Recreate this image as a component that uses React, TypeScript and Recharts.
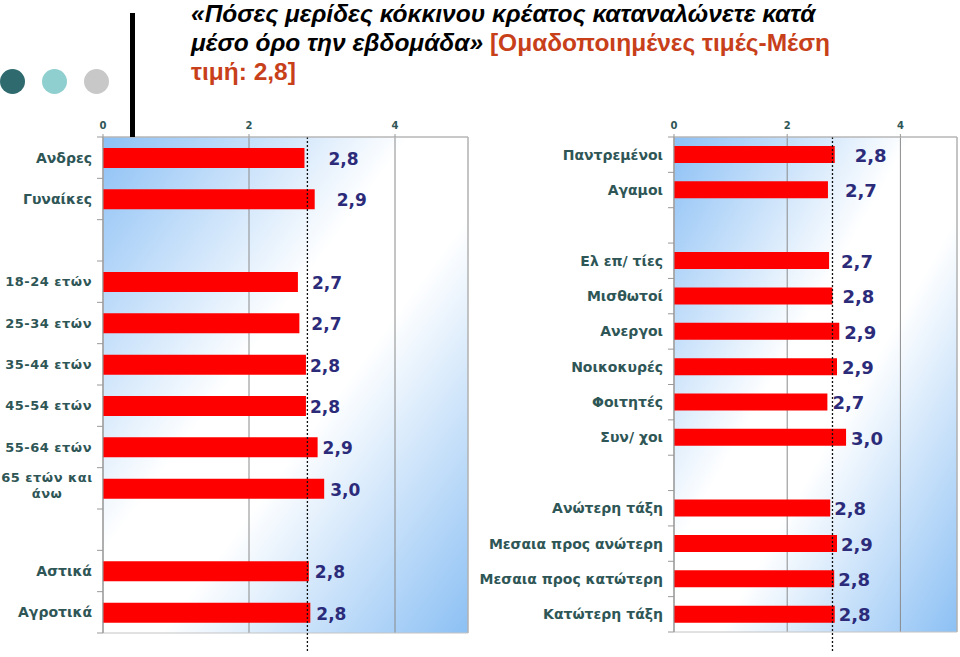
import React from 'react';
import { BarChart, Bar, XAxis, YAxis, CartesianGrid, ReferenceLine, ReferenceArea, LabelList } from 'recharts';

// left panel: gender / age / area
const leftLabels = ['Ανδρες', 'Γυναίκες', '', '18-24 ετών', '25-34 ετών', '35-44 ετών', '45-54 ετών', '55-64 ετών', '65 ετών και\nάνω', '', 'Αστικά', 'Αγροτικά'];
const leftValues = [2.76, 2.9, null, 2.67, 2.69, 2.78, 2.78, 2.94, 3.03, null, 2.82, 2.84];

// right panel: marital status / occupation / social class
const rightLabels = ['Παντρεμένοι', 'Αγαμοι', '', 'Ελ επ/ τίες', 'Μισθωτοί', 'Ανεργοι', 'Νοικοκυρές', 'Φοιτητές', 'Συν/ χοι', '', 'Ανώτερη τάξη', 'Μεσαια προς ανώτερη', 'Μεσαια προς κατώτερη', 'Κατώτερη τάξη'];
const rightValues = [2.84, 2.72, null, 2.74, 2.8, 2.92, 2.88, 2.71, 3.04, null, 2.76, 2.88, 2.83, 2.84];

const xTicks = [0, 2, 4];
const meanValue = 2.8;

// space between bar end and its value label (one per drawn bar)
const leftLabelGap = [24, 22, 14, 12, 4, 4, 5, 6, 6, 6];
const rightLabelGap = [20, 17, 12, 10, 5, 5, 5, 5, 4, 4, 4, 4];

const labelColor = '#2f5656';
const valueColor = '#2b2b7a';
const font = '"DejaVu Sans", Verdana, sans-serif';

const makeTick = (labels: string[], band: number) => (props: any) => {
  const { x, y, index } = props;
  const axisX = x + 11;
  const text = labels[index] ?? '';
  const lines = text.split('\n');
  const spaced = /\d/.test(text);
  const common = {
    fill: labelColor,
    fontSize: spaced ? 13 : 14,
    fontWeight: 'bold',
    fontFamily: font,
    letterSpacing: spaced ? 0.5 : 0,
  };
  return (
    <g>
      <line x1={axisX - 6} x2={axisX} y1={y - band / 2} y2={y - band / 2} stroke="#999" />
      {index === labels.length - 1 && (
        <line x1={axisX - 6} x2={axisX} y1={y + band / 2} y2={y + band / 2} stroke="#999" />
      )}
      {lines.length > 1 ? (
        <text textAnchor="middle" {...common}>
          {lines.map((l, k) => (
            <tspan key={k} x={x - 45} y={y + (k - (lines.length - 1) / 2) * 16 - 3} dy="0.35em">{l}</tspan>
          ))}
        </text>
      ) : (
        <text x={x} y={y} dy="0.35em" textAnchor="end" {...common}>
          {text}
        </text>
      )}
    </g>
  );
};

const makeValueLabel = (gaps: number[], size: number) => (props: any) => {
  const { x, y, width, height, value, index } = props;
  if (value == null) return null;
  return (
    <text x={x + width + (gaps[index] ?? 5)} y={y + height / 2 + 1} dy="0.35em" fill={valueColor} fontSize={size} fontWeight="bold" fontFamily={font}>
      {Number(value).toFixed(1).replace('.', ',')}
    </text>
  );
};

const meanLine = (props: any) => {
  const top = Math.min(props.y1, props.y2);
  const bottom = Math.max(props.y1, props.y2);
  return <line x1={props.x1} x2={props.x2} y1={top} y2={bottom + 19} stroke="#111" strokeWidth={1.3} strokeDasharray="2 2" />;
};

type PanelProps = {
  id: string;
  labels: string[];
  values: (number | null)[];
  gaps: number[];
  left: number;
  width: number;
  yWidth: number;
  marginRight: number;
  plotBottom: number;
  barSize: number;
  valueSize: number;
};

const Panel = ({ id, labels, values, gaps, left, width, yWidth, marginRight, plotBottom, barSize, valueSize }: PanelProps) => {
  const height = 657;
  const plotTop = 137;
  const band = (plotBottom - plotTop) / labels.length;
  const data = labels.map((_, i) => ({ key: `r${i}`, value: values[i] }));
  return (
    <div style={{ position: 'absolute', left, top: 0 }}>
      <BarChart
        layout="vertical"
        width={width}
        height={height}
        data={data}
        margin={{ top: plotTop - 20, right: marginRight, bottom: height - plotBottom, left: 0 }}
      >
        <defs>
          <linearGradient id={id} x1="0" y1="0" x2="1" y2="1">
            <stop offset="0%" stopColor="#8cc0f5" />
            <stop offset="42%" stopColor="#ffffff" />
            <stop offset="58%" stopColor="#ffffff" />
            <stop offset="100%" stopColor="#8cc0f4" />
          </linearGradient>
        </defs>
        <CartesianGrid horizontal={false} stroke="#8a8a8a" fill={`url(#${id})`} fillOpacity={1} />
        <ReferenceArea x1={0} x2={5} fill="none" stroke="#c4c4c4" ifOverflow="visible" />
        <XAxis
          type="number"
          orientation="top"
          domain={[0, 5]}
          ticks={xTicks}
          height={20}
          axisLine={{ stroke: '#b0b0b0' }}
          tickLine={{ stroke: '#999' }}
          tickSize={3}
          tickMargin={5}
          tick={{ fill: labelColor, fontSize: 10, fontWeight: 'bold', fontFamily: font }}
        />
        <YAxis
          type="category"
          dataKey="key"
          width={yWidth}
          interval={0}
          axisLine={{ stroke: '#999' }}
          tickLine={false}
          tickSize={6}
          tickMargin={5}
          tick={makeTick(labels, band)}
        />
        <Bar dataKey="value" fill="#ff0000" barSize={barSize} isAnimationActive={false}>
          <LabelList dataKey="value" content={makeValueLabel(gaps, valueSize)} />
        </Bar>
        <ReferenceLine x={meanValue} ifOverflow="visible" shape={meanLine} />
      </BarChart>
    </div>
  );
};

const circles = ['#2f6b6e', '#8fcfcf', '#c8c8c8'];

export default function App() {
  const red = { color: '#c8401a', fontStyle: 'normal' as const };
  return (
    <div style={{ position: 'fixed', left: 0, top: 0, width: 960, height: 657, background: '#fff', overflow: 'hidden' }}>
      {circles.map((c, i) => (
        <div key={c} style={{ position: 'absolute', left: i * 42, top: 69, width: 25, height: 25, borderRadius: '50%', background: c }} />
      ))}
      <div style={{ position: 'absolute', left: 130, top: 13, width: 5, height: 124, background: '#000', zIndex: 2 }} />
      <div
        style={{
          position: 'absolute',
          left: 191,
          top: -1,
          width: 760,
          fontFamily: '"Liberation Sans", Arial, sans-serif',
          fontSize: 24.5,
          fontWeight: 700,
          lineHeight: '29px',
          whiteSpace: 'nowrap',
        }}
      >
        <span style={{ fontStyle: 'italic', color: '#000' }}>«Πόσες μερίδες κόκκινου κρέατος καταναλώνετε κατά</span>
        <br />
        <span style={{ fontStyle: 'italic', color: '#000' }}>μέσο όρο την εβδομάδα»</span>{' '}
        <span style={red}>[Ομαδοποιημένες τιμές-Μέση</span>
        <br />
        <span style={red}>τιμή: 2,8]</span>
      </div>
      <Panel
        id="gradL"
        labels={leftLabels}
        values={leftValues}
        gaps={leftLabelGap}
        left={0}
        width={480}
        yWidth={103}
        marginRight={12}
        plotBottom={633}
        barSize={20}
        valueSize={17}
      />
      <Panel
        id="gradR"
        labels={rightLabels}
        values={rightValues}
        gaps={rightLabelGap}
        left={470}
        width={490}
        yWidth={204}
        marginRight={3}
        plotBottom={632}
        barSize={17}
        valueSize={18}
      />
    </div>
  );
}
